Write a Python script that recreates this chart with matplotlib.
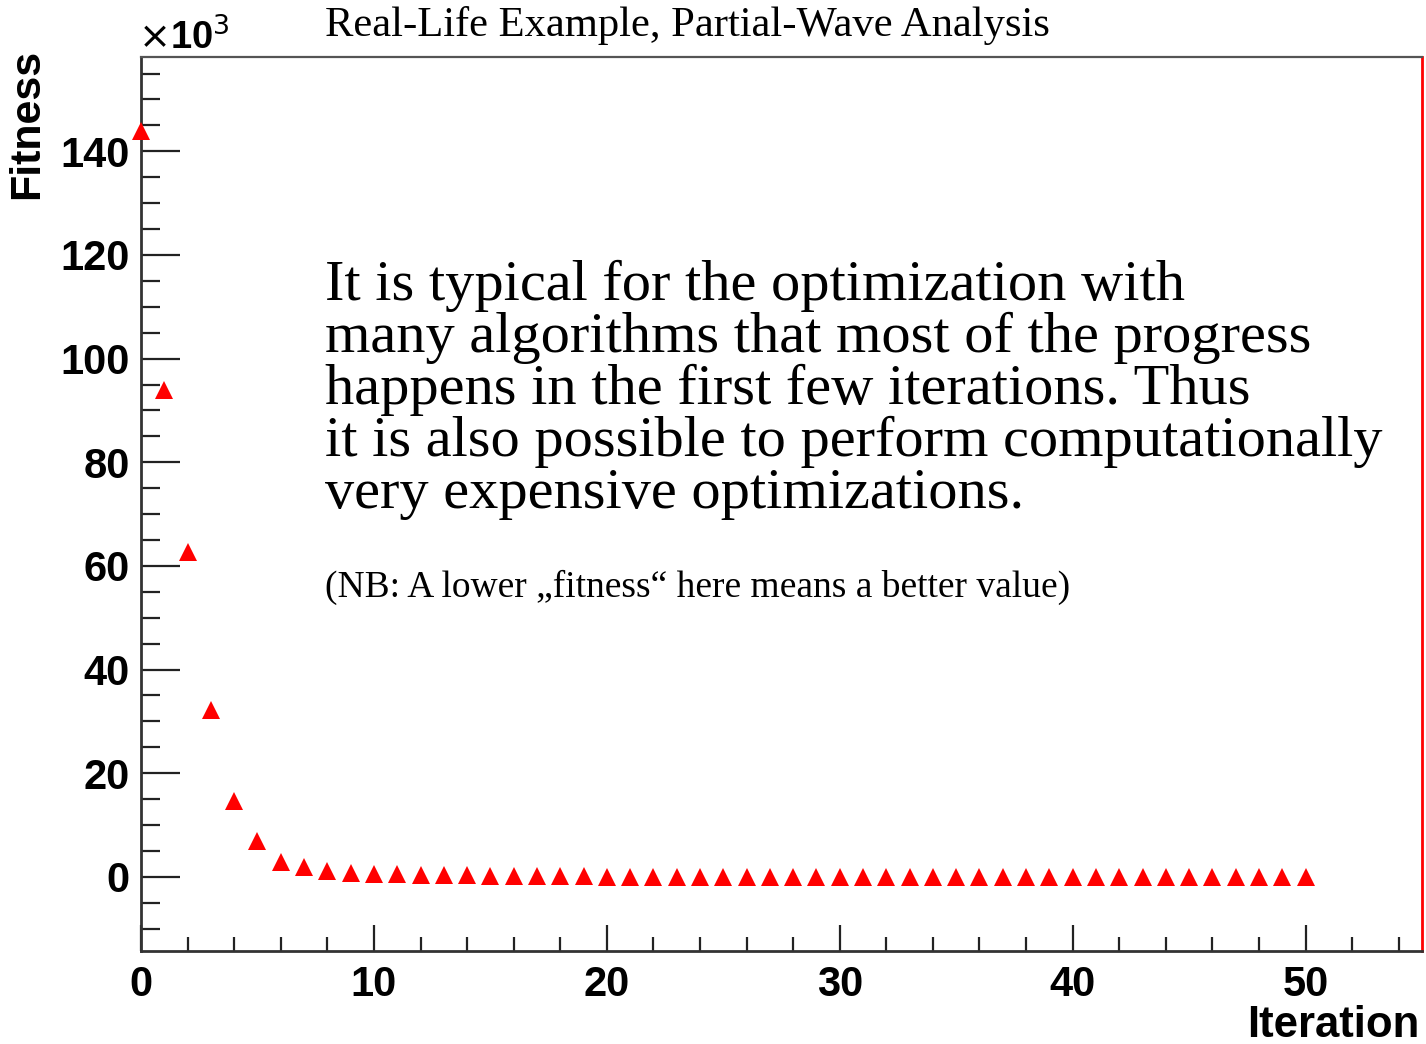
import numpy as np
import matplotlib.pyplot as plt
from matplotlib.ticker import MultipleLocator

# fitness per iteration, in units of 10^3
iterations = np.arange(0, 51)
fitness_k = [
    143.9, 93.9, 62.7, 32.2, 14.7, 6.9, 2.9, 1.9, 1.06, 0.7,
    0.65, 0.5, 0.45, 0.3, 0.3, 0.25, 0.25, 0.2, 0.2, 0.15,
    -0.1, -0.1, -0.1, -0.1, -0.1, -0.1, -0.1, -0.1, -0.1, -0.1,
    -0.1, -0.1, -0.1, -0.1, -0.1, -0.1, -0.1, -0.1, -0.1, -0.1,
    -0.1, -0.1, -0.1, -0.1, -0.1, -0.1, -0.1, -0.1, -0.1, -0.1,
    -0.1,
]

title = "Real-Life Example, Partial-Wave Analysis"
note_lines = [
    "It is typical for the optimization with",
    "many algorithms that most of the progress",
    "happens in the first few iterations. Thus",
    "it is also possible to perform computationally",
    "very expensive optimizations.",
]
nb_text = "(NB: A lower \u201efitness\u201c here means a better value)"

serif = "Liberation Serif"
sans = "Liberation Sans"

fig = plt.figure(figsize=(14.26, 10.44), dpi=100)
ax = fig.add_axes([0.0989, 0.0891, 0.8983, 0.8563])

ax.plot(iterations, fitness_k, ls="none", marker="^", color="red",
        markersize=13.5, markeredgewidth=0, clip_on=False, zorder=5)

ax.set_xlim(0, 55)
ax.set_ylim(-14.3, 158.2)
ax.xaxis.set_major_locator(MultipleLocator(10))
ax.xaxis.set_minor_locator(MultipleLocator(2))
ax.yaxis.set_major_locator(MultipleLocator(20))
ax.yaxis.set_minor_locator(MultipleLocator(5))

ax.tick_params(axis="both", which="both", direction="in", colors="#222222",
               width=1.6, top=False, right=False)
ax.tick_params(axis="y", which="major", length=28, pad=8)
ax.tick_params(axis="y", which="minor", length=14)
ax.tick_params(axis="x", which="major", length=19, pad=10)
ax.tick_params(axis="x", which="minor", length=10)
for lab in ax.get_xticklabels() + ax.get_yticklabels():
    lab.set_fontfamily(sans)
    lab.set_fontweight("bold")
    lab.set_fontsize(30)
    lab.set_color("black")

for side in ["left", "bottom"]:
    ax.spines[side].set_color("#333333")
    ax.spines[side].set_linewidth(2)
ax.spines["top"].set_color("#555555")
ax.spines["top"].set_linewidth(1.6)
ax.spines["right"].set_color("red")
ax.spines["right"].set_linewidth(2)

fig.text(0.9955, 0.007, "Iteration", ha="right", va="baseline",
         fontfamily=sans, fontweight="bold", fontsize=31.5)
fig.text(0.019, 0.953, "Fitness", ha="center", va="top", rotation=90,
         fontfamily=sans, fontweight="bold", fontsize=31)
fig.text(0.097, 0.945, r"$\times$10$^{3}$", ha="left", va="bottom",
         fontfamily=sans, fontweight="bold", fontsize=27.5)

fig.text(0.228, 0.9655, title, ha="left", va="baseline",
         fontfamily=serif, fontsize=30.7)

y0 = 0.713
for i, line in enumerate(note_lines):
    fig.text(0.228, y0 - i * 0.0498, line, ha="left", va="baseline",
             fontfamily=serif, fontsize=42)
fig.text(0.228, 0.428, nb_text, ha="left", va="baseline",
         fontfamily=serif, fontsize=27)

fig.savefig("out.png", dpi=100)
